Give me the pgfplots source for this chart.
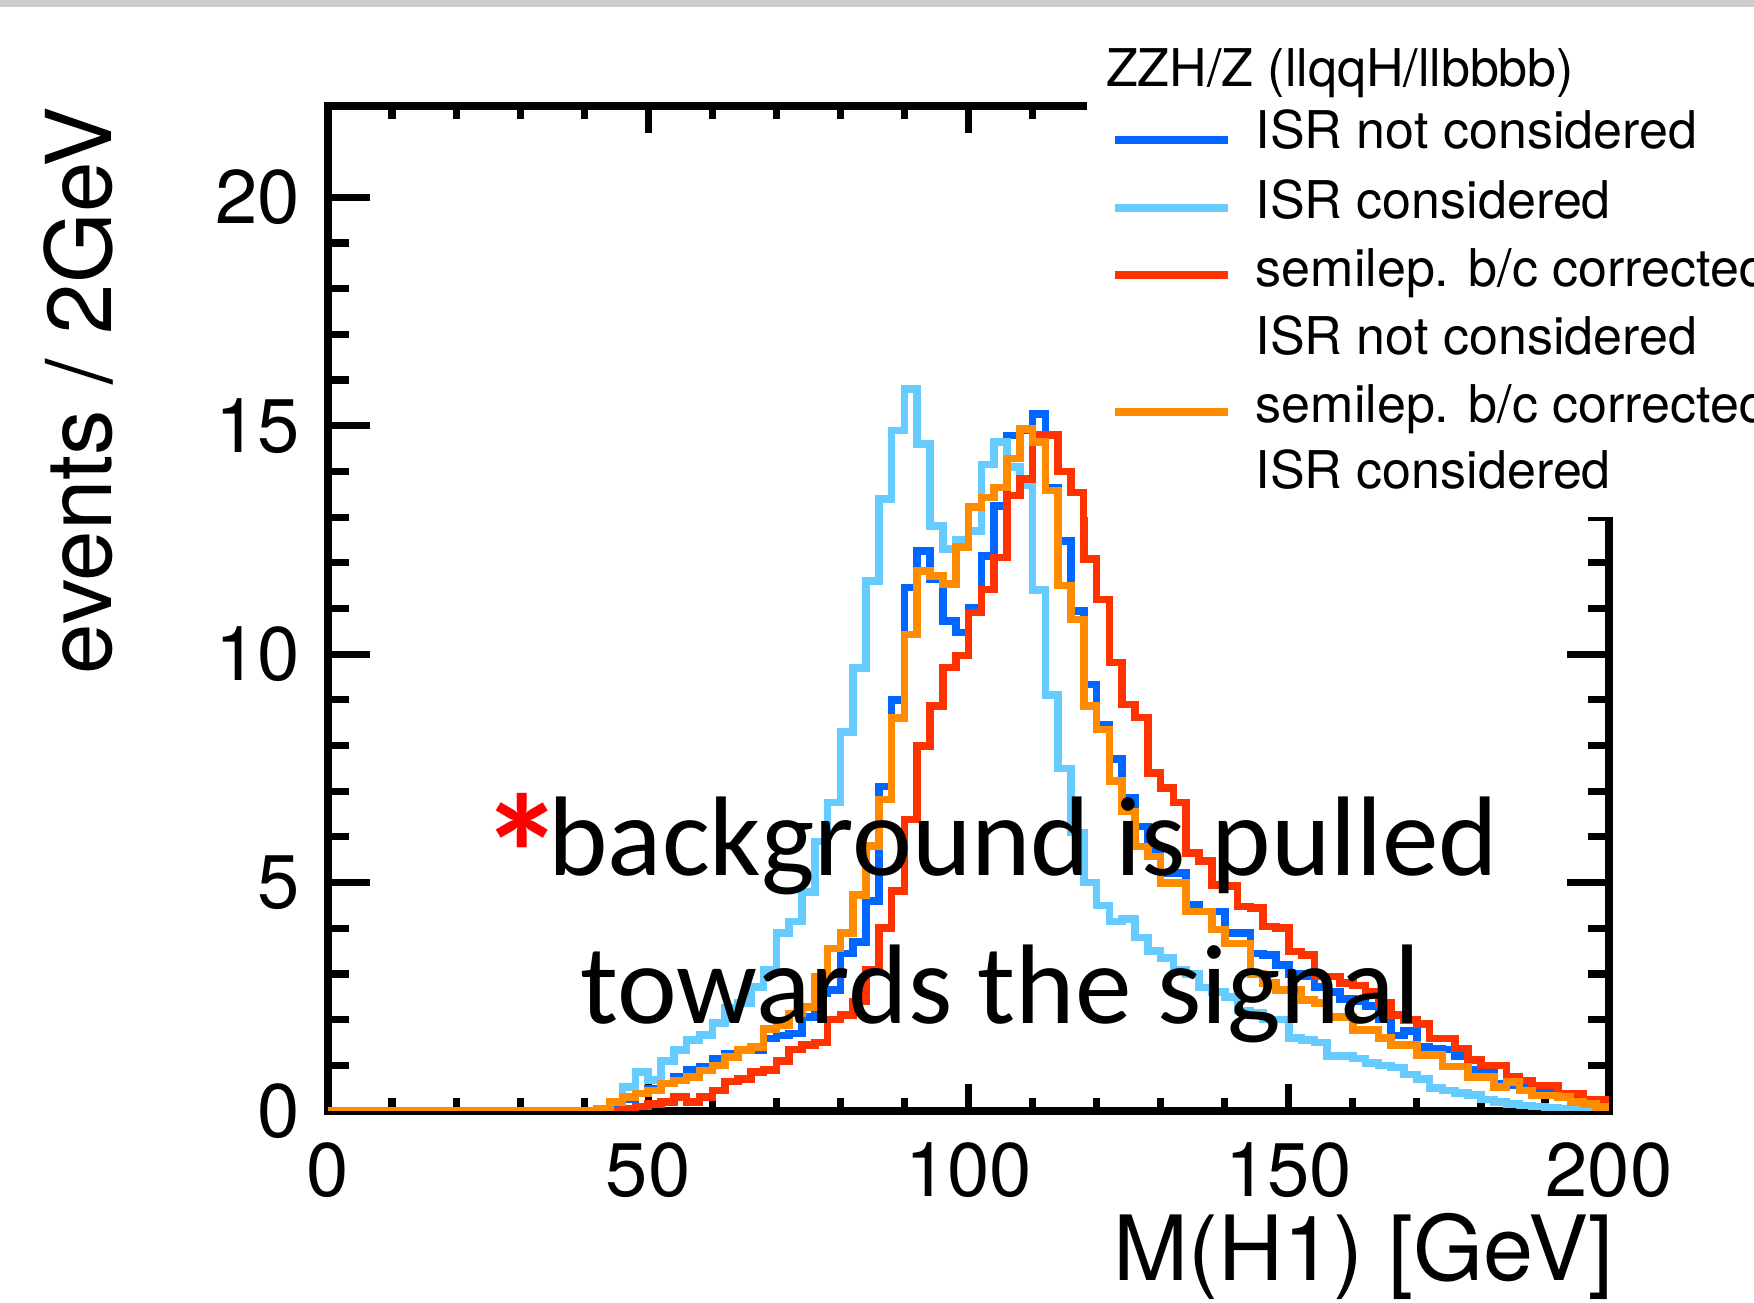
\documentclass[border=0pt]{standalone}
\usepackage{fontspec}
\setmainfont{TeX Gyre Heros}
\newfontfamily\calibri{Carlito}
\usepackage{pgfplots}
\pgfplotsset{compat=1.18}
\usepackage{pgfplotstable}
\definecolor{cdblue}{RGB}{0,102,255}
\definecolor{clblue}{RGB}{102,204,255}
\definecolor{cred}{RGB}{255,51,0}
\definecolor{corange}{RGB}{255,140,0}

\pgfplotstableread{
x y
0 0
42 0
44 0.1
46 0.25
48 0.38
50 0.49
52 0.6
54 0.74
56 0.9
58 0.96
60 1.15
62 1.26
64 1.33
66 1.33
68 1.59
70 1.65
72 1.7
74 2.06
76 2.57
78 2.65
80 3.45
82 3.7
84 4.6
86 7.1
88 9.0
90 11.46
92 12.26
94 11.64
96 10.73
98 10.47
100 11.02
102 12.15
104 13.25
106 14.79
108 14.9
110 15.26
112 13.65
114 12.48
116 10.95
118 9.34
120 8.46
122 7.7
124 6.86
126 6.23
128 5.68
130 5.21
132 5.21
134 4.51
136 4.37
138 4.37
140 3.89
142 3.89
144 3.45
146 3.42
148 3.2
150 3.0
152 2.95
154 2.72
156 2.6
158 2.45
160 2.4
162 2.3
164 2.0
166 1.65
168 1.75
170 1.4
172 1.37
174 1.35
176 1.2
178 0.9
180 0.9
182 0.6
184 0.56
186 0.5
188 0.42
190 0.42
192 0.35
194 0.31
196 0.2
198 0.16
200 0.16
}\tabIsrNot

\pgfplotstableread{
x y
0 0
40 0
42 0.05
44 0.2
46 0.53
48 0.85
50 0.68
52 1.1
54 1.33
56 1.55
58 1.66
60 1.92
62 2.25
64 2.36
66 2.72
68 3.09
70 3.9
72 4.15
74 4.8
76 5.9
78 6.75
80 8.3
82 9.7
84 11.6
86 13.4
88 14.9
90 15.8
92 14.6
94 12.8
96 12.3
98 12.5
100 12.7
102 14.15
104 14.65
106 14.1
108 13.7
110 11.4
112 9.1
114 7.5
116 6.1
118 5.0
120 4.5
122 4.15
124 4.2
126 3.8
128 3.5
130 3.35
132 3.1
134 3.0
136 2.7
138 2.6
140 2.5
142 2.2
144 2.15
146 2.0
148 2.0
150 1.6
152 1.55
154 1.5
156 1.2
158 1.2
160 1.15
162 1.05
164 1.0
166 0.95
168 0.8
170 0.7
172 0.5
174 0.45
176 0.4
178 0.35
180 0.25
182 0.2
184 0.15
186 0.12
188 0.1
190 0.08
192 0.05
194 0.05
196 0.03
198 0.02
200 0.02
}\tabIsr

\pgfplotstableread{
x y
0 0
44 0
46 0.05
48 0.1
50 0.15
52 0.2
54 0.3
56 0.2
58 0.3
60 0.45
62 0.65
64 0.7
66 0.85
68 0.9
70 1.1
72 1.35
74 1.45
76 1.5
78 2.0
80 2.1
82 2.4
84 3.1
86 4.0
88 4.81
90 6.38
92 7.99
94 8.87
96 9.71
98 9.97
100 10.91
102 11.42
104 12.12
106 13.47
108 13.84
110 14.8
112 14.8
114 14.0
116 13.54
118 12.08
120 11.2
122 9.82
124 8.9
126 8.61
128 7.4
130 7.07
132 6.75
134 5.65
136 5.47
138 4.95
140 4.92
142 4.48
144 4.45
146 4.04
148 4.0
150 3.49
152 3.42
154 2.94
156 2.94
158 2.8
160 2.75
162 2.6
164 2.36
166 2.1
168 1.99
170 1.9
172 1.59
174 1.59
176 1.37
178 1.11
180 1.0
182 1.0
184 0.75
186 0.67
188 0.56
190 0.56
192 0.38
194 0.38
196 0.24
198 0.24
200 0.24
}\tabSemiNot

\pgfplotstableread{
x y
0 0
42 0.05
44 0.2
46 0.3
48 0.38
50 0.45
52 0.6
54 0.67
56 0.74
58 0.89
60 1.0
62 1.18
64 1.33
66 1.4
68 1.8
70 1.88
72 2.13
74 2.28
76 2.94
78 3.56
80 3.89
82 4.73
84 5.8
86 6.82
88 8.6
90 10.43
92 11.82
94 11.71
96 11.53
98 12.34
100 13.22
102 13.43
104 13.65
106 14.28
108 14.93
110 14.64
112 13.58
114 11.5
116 10.76
118 8.86
120 8.35
122 7.22
124 6.56
126 5.79
128 5.57
130 4.99
132 4.99
134 4.37
136 4.37
138 3.97
140 3.67
142 3.67
144 3.0
146 2.8
148 2.65
150 2.65
152 2.43
154 2.36
156 2.06
158 2.06
160 1.77
162 1.77
164 1.6
166 1.44
168 1.44
170 1.22
172 1.22
174 0.97
176 0.97
178 0.75
180 0.75
182 0.53
184 0.64
186 0.45
188 0.34
190 0.34
192 0.3
194 0.2
196 0.15
198 0.09
200 0.09
}\tabSemiIsr

\begin{document}
\begin{tikzpicture}
\useasboundingbox (0pt,0pt) rectangle (438.5pt,325.75pt);
\begin{axis}[
  at={(82pt,48pt)}, anchor=south west,
  scale only axis, width=320.25pt, height=251.25pt,
  xmin=0, xmax=200, ymin=0, ymax=22,
  xtick={0,50,100,150,200}, ytick={0,5,10,15,20},
  minor x tick num=4, minor y tick num=4,
  tick align=inside, tick pos=both,
  axis line style={line width=1.8pt},
  every tick/.append style={line width=1.8pt, black},
  xtick style={/pgfplots/major tick length=6.8pt,/pgfplots/minor tick length=3.3pt},
  ytick style={/pgfplots/major tick length=10.5pt,/pgfplots/minor tick length=5.3pt},
  tick label style={font=\fontsize{19}{19}\selectfont},
  /pgf/number format/assume math mode=true,
  xticklabel style={yshift=-4.4pt},
  yticklabel style={xshift=-3.5pt},
  xlabel={M(H1) [GeV]},
  xlabel style={font=\fontsize{22.5}{22.5}\selectfont, at={(axis description cs:1.0044,-0.169)}, anchor=base east, inner sep=0pt},
  ylabel={events / 2GeV},
  ylabel style={font=\fontsize{22.7}{22.7}\selectfont, at={(axis description cs:-0.1944,1)}, anchor=east, inner sep=0pt},
]
\addplot[cdblue, const plot, line width=1.9pt, mark=none] table[x=x,y=y] {\tabIsrNot};
\addplot[clblue, const plot, line width=1.9pt, mark=none] table[x=x,y=y] {\tabIsr};
\addplot[cred, const plot, line width=1.9pt, mark=none] table[x=x,y=y] {\tabSemiNot};
\addplot[corange, const plot, line width=1.9pt, mark=none] table[x=x,y=y] {\tabSemiIsr};
\end{axis}
% legend
\fill[white] (271.8pt,196.5pt) rectangle (438.5pt,325.75pt);
\node[anchor=base west, inner sep=0pt, font=\fontsize{13}{13}\selectfont] at (276.3pt,304.2pt) {ZZH/Z (llqqH/llbbbb)};
\draw[cdblue, line width=2pt] (278.8pt,290.8pt) -- (307.05pt,290.8pt);
\node[anchor=base west, inner sep=0pt, font=\fontsize{13}{13}\selectfont] at (313.75pt,288.55pt) {ISR not considered};
\draw[clblue, line width=2pt] (278.8pt,273.7pt) -- (307.05pt,273.7pt);
\node[anchor=base west, inner sep=0pt, font=\fontsize{13}{13}\selectfont] at (313.75pt,271.2pt) {ISR considered};
\draw[cred, line width=2pt] (278.8pt,256.95pt) -- (307.05pt,256.95pt);
\node[anchor=base west, inner sep=0pt, font=\fontsize{13}{13}\selectfont] at (313.75pt,254.15pt) {semilep. b/c corrected};
\node[anchor=base west, inner sep=0pt, font=\fontsize{13}{13}\selectfont] at (313.75pt,237.1pt) {ISR not considered};
\draw[corange, line width=2pt] (278.8pt,222.85pt) -- (307.05pt,222.85pt);
\node[anchor=base west, inner sep=0pt, font=\fontsize{13}{13}\selectfont] at (313.75pt,220.05pt) {semilep. b/c corrected};
\node[anchor=base west, inner sep=0pt, font=\fontsize{13}{13}\selectfont] at (313.75pt,203.55pt) {ISR considered};
% annotation
\node[anchor=base west, inner sep=0pt, text=red, font=\calibri\bfseries\fontsize{42}{42}\selectfont] at (119.9pt,97.3pt) {*};
\node[anchor=base west, inner sep=0pt, font=\calibri\fontsize{28.3}{28.3}\selectfont] at (136.9pt,106.8pt) {background is pulled};
\node[anchor=base west, inner sep=0pt, font=\calibri\fontsize{28.3}{28.3}\selectfont] at (145pt,69.9pt) {towards the signal};
% top grey band
\fill[gray!40] (0pt,324.1pt) rectangle (438.5pt,325.75pt);
\end{tikzpicture}
\end{document}
